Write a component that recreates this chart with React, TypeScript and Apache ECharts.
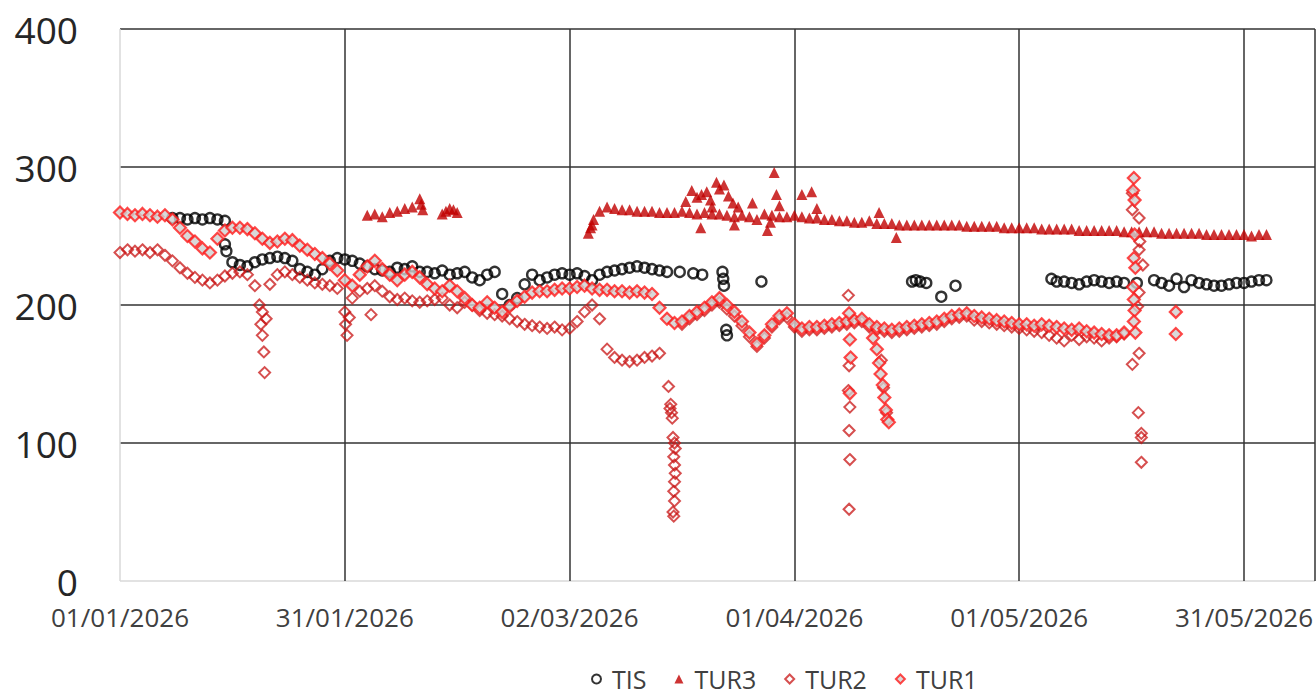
import React, { useEffect, useRef } from "react";
import * as echarts from "echarts";

// x values are days since 01/01/2026
const X_MIN = 0;
const X_MAX = 159.47;
const X_STEP = 30;
const Y_TICKS = [0, 100, 200, 300, 400];

const TIS_A_START = 7;
const TIS_A = [263, 263, 262, 263, 262, 263, 262, 261];
const TIS_B_START = 15;
const TIS_B = [231, 229, 228, 231, 233, 234, 235, 234, 232, 226, 224, 222, 226, 232, 234, 233, 232, 230, 228, 226, 225, 224, 227, 226, 228, 224, 224, 223, 225, 222, 223, 224, 220, 218, 222, 224, 208, 200, 205, 215, 222, 218, 220, 222, 223, 222, 223, 221, 218, 222, 224, 225, 226, 227, 228, 227, 226, 225, 224];
const TIS_C_START = 125;
const TIS_C = [217, 217, 216, 215, 217, 218, 217, 216, 217, 216];
const TIS_D_START = 138;
const TIS_D = [218, 216, 214, 219, 213, 218, 216, 215, 214, 214, 215, 216, 216, 217, 218, 218];
const TIS_EXTRA = [[14, 244], [14.2, 239], [74.7, 224], [76.5, 223], [77.7, 222], [80.4, 224], [80.5, 219], [80.6, 214], [80.9, 182], [81, 178], [85.6, 217], [105.7, 217], [106.2, 218], [106.8, 217], [107.6, 216], [109.6, 206], [111.5, 214], [124.3, 219], [135.7, 216]];

const TUR3_A_START = 33;
const TUR3_A = [265, 266, 264, 267, 268, 270, 271];
const TUR3_B_START = 63;
const TUR3_B = [258, 268, 271, 270, 269, 269, 268, 268, 268, 267, 267, 267, 268, 267, 266, 267, 266, 266, 265, 264, 265, 264, 262, 266, 265, 264, 264, 265, 264, 263, 263, 262, 262, 261, 261, 260, 260, 261, 259, 259, 259, 258, 258, 258, 258, 258, 258, 258, 258, 258, 257, 257, 257, 257, 257, 256, 256, 256, 256, 256, 255, 255, 255, 255, 255, 254, 254, 254, 254, 254, 254, 253, 253, 253, 253, 253, 252, 252, 252, 252, 252, 252, 251, 251, 251, 251, 251, 251, 250, 251, 251];
const TUR3_EXTRA = [[40, 277], [40.2, 273], [40.4, 269], [43, 266], [43.5, 268], [44, 270], [44.5, 269], [45, 267], [62.5, 252], [62.8, 256], [63.2, 262], [75.5, 275], [76.3, 283], [77, 278], [77.6, 280], [78.3, 282], [78.8, 276], [79.6, 289], [80, 284], [80.6, 287], [81.2, 279], [81.8, 274], [82.5, 271], [84.4, 274], [86.4, 254], [86.8, 260], [87.3, 296], [87.6, 280], [88, 272], [91, 280], [92.3, 282], [93, 270], [101.3, 267], [103.6, 249], [77.5, 256], [79, 271], [82, 258]];

const TUR2_A_START = 0;
const TUR2_A = [238, 240, 239, 240, 238, 240, 236, 232, 227, 223, 220, 218, 216, 218, 221, 223, 224, 222, 214, 195, 215, 222, 224, 222, 220, 218, 216, 215, 214, 212, 195, 205, 210, 212, 214, 210, 206, 204, 205, 203, 202, 203, 204, 205, 200, 198, 202, 200, 196, 194, 193, 192, 190, 188, 186, 185, 184, 183, 184, 182, 183, 188, 195, 200, 190, 168, 162, 160, 159, 160, 162, 163, 165];
const TUR2_B_START = 75;
const TUR2_B = [186, 190, 193, 196, 200, 202, 197, 192, 185, 177, 170, 176, 184, 190, 191, 184, 181, 182, 182, 183, 184, 185, 186, 187, 188, 184, 182, 181, 180, 181, 182, 183, 184, 185, 186, 188, 190, 191, 192, 189, 188, 187, 186, 185, 184, 183, 182, 181, 180, 178, 176, 174, 178, 175, 177, 176, 174, 176, 177, 179];
const TUR2_EXTRA = [[18.6, 200], [18.8, 186], [19, 178], [19.2, 166], [19.3, 151], [19.5, 190], [30.1, 186], [30.3, 178], [30.6, 191], [33.5, 193], [73.2, 141], [73.4, 125], [73.5, 128], [73.6, 122], [73.7, 118], [73.8, 104], [74, 100], [74.1, 96], [73.9, 90], [74, 84], [74.1, 78], [74, 72], [73.9, 65], [74, 58], [73.8, 50], [73.9, 47], [97.2, 207], [97.3, 156], [97.2, 138], [97.4, 126], [97.3, 109], [97.4, 88], [97.3, 52], [101.6, 160], [101.9, 140], [102.3, 122], [135.1, 281], [135.1, 269], [136, 263], [136.1, 246], [136, 240], [136.5, 229], [136, 209], [135.8, 199], [136, 165], [135.1, 157], [135.9, 122], [136.3, 107], [136.3, 104], [136.3, 86]];

const TUR1_START = 0;
const TUR1 = [267, 266, 265, 266, 265, 264, 265, 262, 256, 250, 246, 241, 238, 248, 254, 256, 256, 255, 252, 248, 245, 246, 248, 247, 243, 240, 237, 234, 230, 225, 218, 214, 222, 228, 232, 226, 222, 218, 222, 224, 220, 215, 212, 210, 214, 210, 205, 200, 198, 202, 198, 195, 199, 203, 206, 209, 210, 210, 211, 212, 212, 213, 214, 212, 211, 211, 210, 210, 209, 210, 209, 208, 198, 190, 187, 188, 192, 195, 198, 202, 205, 200, 195, 188, 180, 172, 178, 186, 192, 194, 186, 183, 184, 184, 185, 186, 187, 188, 189, 190, 186, 184, 183, 182, 183, 184, 185, 186, 187, 188, 190, 192, 193, 194, 192, 191, 190, 189, 188, 187, 186, 186, 185, 186, 185, 184, 183, 182, 183, 181, 180, 179, 178, 178, 180];
const TUR1_EXTRA = [[97.3, 194], [97.4, 175], [97.5, 162], [97.4, 136], [100.5, 176], [101, 168], [101.3, 158], [101.5, 150], [101.8, 142], [102, 133], [102.2, 124], [102.4, 117], [102.6, 115], [135.3, 292], [135.2, 283], [135.4, 276], [135.4, 251], [135.3, 234], [135.5, 227], [135.2, 213], [135.3, 204], [135.4, 196], [135.3, 188], [135.5, 180], [140.9, 195], [140.9, 179]];

const run = (start: number, vals: number[]) => vals.map((v, i) => [start + i, v]);

const fmtDay = (d: number) => {
  const dt = new Date(Date.UTC(2026, 0, 1) + Math.round(d) * 86400000);
  const dd = String(dt.getUTCDate()).padStart(2, "0");
  const mm = String(dt.getUTCMonth() + 1).padStart(2, "0");
  return `${dd}/${mm}/${dt.getUTCFullYear()}`;
};

const FONT = "'Open Sans', sans-serif";

export default function App() {
  const ref = useRef<HTMLDivElement>(null);
  useEffect(() => {
    if (!ref.current) return;
    const chart = echarts.init(ref.current, undefined, { renderer: "svg" });
    const tis = [...run(TIS_A_START, TIS_A), ...run(TIS_B_START, TIS_B), ...run(TIS_C_START, TIS_C), ...run(TIS_D_START, TIS_D), ...TIS_EXTRA];
    const tur3 = [...run(TUR3_A_START, TUR3_A), ...run(TUR3_B_START, TUR3_B), ...TUR3_EXTRA];
    const tur2 = [...run(TUR2_A_START, TUR2_A), ...run(TUR2_B_START, TUR2_B), ...TUR2_EXTRA];
    const tur1 = [...run(TUR1_START, TUR1), ...TUR1_EXTRA];
    chart.setOption({
      animation: false,
      grid: { left: 120, right: 0, top: 29, bottom: 114, containLabel: false },
      xAxis: {
        type: "value",
        min: X_MIN,
        max: X_MAX,
        interval: X_STEP,
        axisLine: { show: false },
        axisTick: { show: false },
        axisLabel: {
          formatter: (v: number) => fmtDay(v),
          showMaxLabel: false,
          fontSize: 26,
          lineHeight: 26,
          fontFamily: FONT,
          color: "#404040",
          margin: 23,
        },
        splitLine: {
          show: true,
          lineStyle: { color: ["#d9d9d9", "#333", "#333", "#333", "#333", "#333", "#333"], width: 1.5 },
        },
      },
      yAxis: {
        type: "value",
        min: Y_TICKS[0],
        max: Y_TICKS[Y_TICKS.length - 1],
        interval: 100,
        axisLine: { show: false },
        axisTick: { show: false },
        axisLabel: { fontSize: 37, lineHeight: 28, fontFamily: FONT, color: "#262626", margin: 42 },
        splitLine: {
          show: true,
          lineStyle: { color: ["#d9d9d9", "#333", "#333", "#333", "#333"], width: 1.5 },
        },
      },
      legend: {
        top: 661,
        left: 586,
        itemGap: 28,
        itemWidth: 9,
        itemHeight: 9,
        textStyle: { fontSize: 25, lineHeight: 26, fontFamily: FONT, color: "#404040", padding: [0, 0, 0, 6] },
        data: ["TIS", "TUR3", "TUR2", "TUR1"],
      },
      series: [
        {
          name: "TIS",
          type: "scatter",
          symbol: "circle",
          symbolSize: 10,
          data: tis,
          itemStyle: { color: "rgba(255,255,255,0)", borderColor: "#000", borderWidth: 2.4 },
        },
        {
          name: "TUR3",
          type: "scatter",
          symbol: "triangle",
          symbolSize: 11,
          data: tur3,
          itemStyle: { color: "#c00000" },
        },
        {
          name: "TUR2",
          type: "scatter",
          symbol: "diamond",
          symbolSize: 11,
          data: tur2,
          itemStyle: { color: "rgba(255,255,255,0)", borderColor: "#c81414", borderWidth: 2, opacity: 0.75 },
        },
        {
          name: "TUR1",
          type: "scatter",
          symbol: "diamond",
          symbolSize: 12,
          data: tur1,
          itemStyle: { color: "#d0d0d0", borderColor: "#ff1a1a", borderWidth: 2.2 },
        },
      ],
    });
    return () => chart.dispose();
  }, []);
  return <div ref={ref} style={{ position: "absolute", left: 0, top: 0, width: 1316, height: 695 }} />;
}
